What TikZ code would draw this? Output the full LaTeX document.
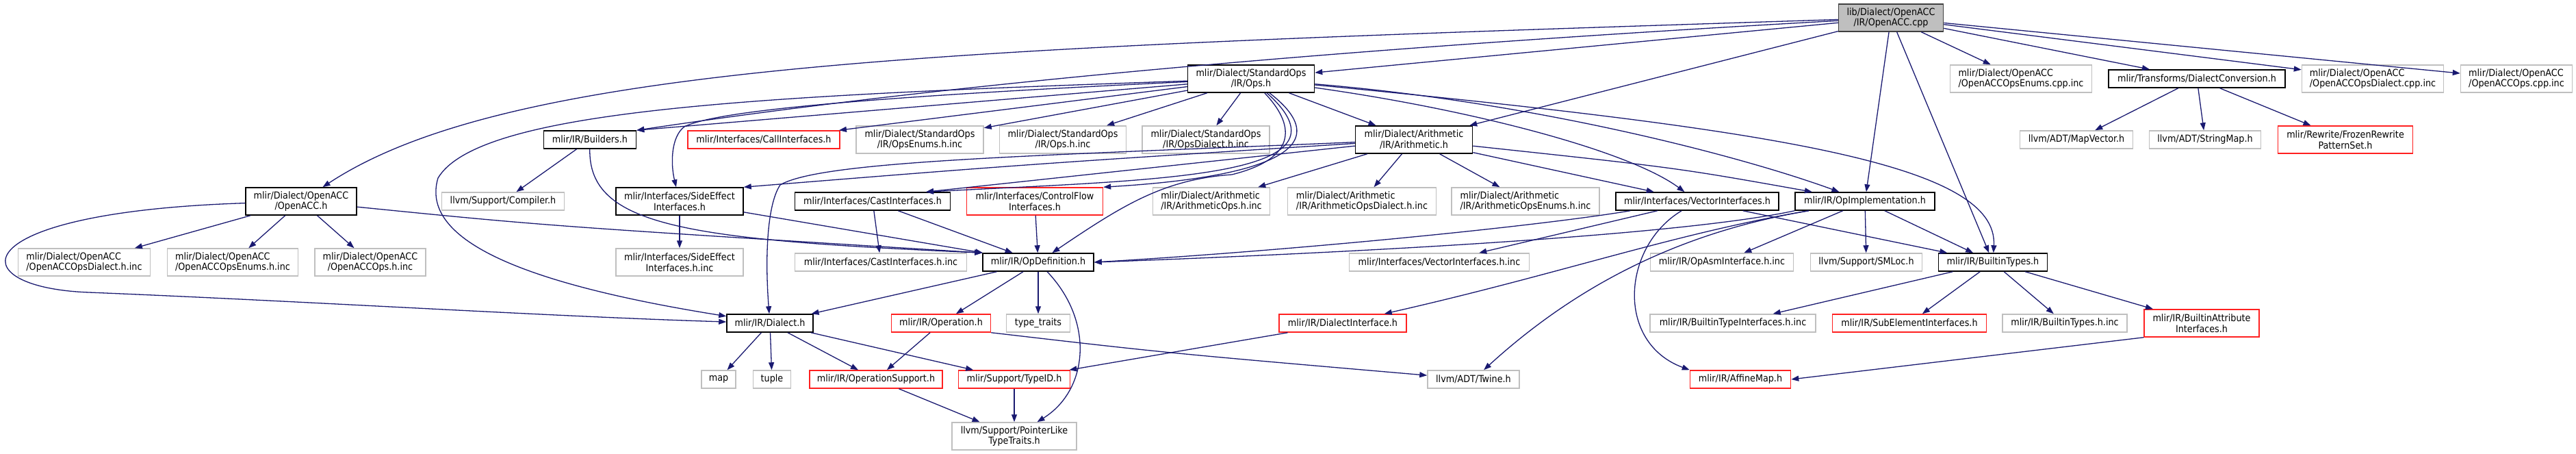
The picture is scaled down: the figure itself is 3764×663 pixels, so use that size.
\documentclass[tikz,border=0pt]{standalone}
\usepackage{fontspec}
\newfontfamily\dxfont{DejaVu Sans Condensed}
\usetikzlibrary{arrows.meta}
\definecolor{edgeblue}{HTML}{191970}
\definecolor{extgray}{HTML}{BFBFBF}
\definecolor{grey25}{HTML}{404040}
\definecolor{cutred}{HTML}{FF2020}
\begin{document}
\begin{tikzpicture}[x=1pt, y=-1pt,
    incbox/.style={rectangle, line width=1.5pt, inner sep=0pt, align=center,
      font=\dxfont\fontsize{14.2pt}{15.5pt}\selectfont, minimum height=26pt},
    docfile/.style={incbox, draw=black},
    extfile/.style={incbox, draw=extgray},
    cutfile/.style={incbox, draw=cutred},
    rootfile/.style={incbox, draw=grey25, fill=extgray},
    tall/.style={minimum height=40pt},
    dep/.style={draw=edgeblue, line width=1.3pt, -{Triangle[length=11pt,width=8pt]}}]
    \useasboundingbox (0,0) rectangle (3764,663);

    \node[rootfile, tall, minimum width=153pt] (root) at (2763,26) {lib/Dialect/OpenACC\\/IR/OpenACC.cpp};

    \node[docfile, tall, minimum width=185pt] (stdops) at (1828,115) {mlir/Dialect/StandardOps\\/IR/Ops.h};
    \node[extfile, tall, align=left, minimum width=207pt] (accenumscpp) at (2953,115) {mlir/Dialect/OpenACC\\/OpenACCOpsEnums.cpp.inc};
    \node[docfile, minimum width=258pt] (dconv) at (3210,115) {mlir/Transforms/DialectConversion.h};
    \node[extfile, tall, align=left, minimum width=207pt] (accdialcpp) at (3467,115) {mlir/Dialect/OpenACC\\/OpenACCOpsDialect.cpp.inc};
    \node[extfile, tall, align=left, minimum width=163pt] (accopscpp) at (3677,115) {mlir/Dialect/OpenACC\\/OpenACCOps.cpp.inc};

    \node[docfile, minimum width=135pt] (builders) at (862,204) {mlir/IR/Builders.h};
    \node[cutfile, minimum width=222pt] (callif) at (1116,204) {mlir/Interfaces/CallInterfaces.h};
    \node[extfile, tall, minimum width=186pt] (opsenumsinc) at (1344,204) {mlir/Dialect/StandardOps\\/IR/OpsEnums.h.inc};
    \node[extfile, tall, minimum width=185pt] (opsinc) at (1553,204) {mlir/Dialect/StandardOps\\/IR/Ops.h.inc};
    \node[extfile, tall, minimum width=186pt] (opsdialinc) at (1762,204) {mlir/Dialect/StandardOps\\/IR/OpsDialect.h.inc};
    \node[docfile, tall, minimum width=171pt] (arith) at (2066,204) {mlir/Dialect/Arithmetic\\/IR/Arithmetic.h};
    \node[extfile, minimum width=165pt] (mapvec) at (3034,204) {llvm/ADT/MapVector.h};
    \node[extfile, minimum width=163pt] (strmap) at (3222,204) {llvm/ADT/StringMap.h};
    \node[cutfile, tall, minimum width=197pt] (frozen) at (3427,204) {mlir/Rewrite/FrozenRewrite\\PatternSet.h};

    \node[docfile, tall, minimum width=162pt] (openacch) at (440,294) {mlir/Dialect/OpenACC\\/OpenACC.h};
    \node[extfile, minimum width=179pt] (compiler) at (735,294) {llvm/Support/Compiler.h};
    \node[docfile, tall, minimum width=186pt] (sideeff) at (993,294) {mlir/Interfaces/SideEffect\\Interfaces.h};
    \node[docfile, minimum width=227pt] (castif) at (1275,294) {mlir/Interfaces/CastInterfaces.h};
    \node[cutfile, tall, minimum width=199pt] (ctrlflow) at (1512,294) {mlir/Interfaces/ControlFlow\\Interfaces.h};
    \node[extfile, tall, align=left, minimum width=171pt] (arithopsinc) at (1770,294) {mlir/Dialect/Arithmetic\\/IR/ArithmeticOps.h.inc};
    \node[extfile, tall, align=left, minimum width=217pt] (arithdialinc) at (1990,294) {mlir/Dialect/Arithmetic\\/IR/ArithmeticOpsDialect.h.inc};
    \node[extfile, tall, align=left, minimum width=216pt] (arithenumsinc) at (2229,294) {mlir/Dialect/Arithmetic\\/IR/ArithmeticOpsEnums.h.inc};
    \node[docfile, minimum width=238pt] (vecif) at (2480,294) {mlir/Interfaces/VectorInterfaces.h};
    \node[docfile, minimum width=204pt] (opimpl) at (2725,294) {mlir/IR/OpImplementation.h};

    \node[extfile, tall, align=left, minimum width=193pt] (accdialinc) at (123,383) {mlir/Dialect/OpenACC\\/OpenACCOpsDialect.h.inc};
    \node[extfile, tall, align=left, minimum width=191pt] (accenumsinc) at (340,383) {mlir/Dialect/OpenACC\\/OpenACCOpsEnums.h.inc};
    \node[extfile, tall, minimum width=162pt] (accopsinc) at (541,383) {mlir/Dialect/OpenACC\\/OpenACCOps.h.inc};
    \node[extfile, tall, minimum width=186pt] (sideeffinc) at (993,383) {mlir/Interfaces/SideEffect\\Interfaces.h.inc};
    \node[extfile, minimum width=251pt] (castinc) at (1287,383) {mlir/Interfaces/CastInterfaces.h.inc};
    \node[docfile, minimum width=162pt] (opdef) at (1517,383) {mlir/IR/OpDefinition.h};
    \node[extfile, minimum width=263pt] (vecinc) at (2103,383) {mlir/Interfaces/VectorInterfaces.h.inc};
    \node[extfile, minimum width=209pt] (opasminc) at (2516,383) {mlir/IR/OpAsmInterface.h.inc};
    \node[extfile, minimum width=163pt] (smloc) at (2727,383) {llvm/Support/SMLoc.h};
    \node[docfile, minimum width=159pt] (btypes) at (2912,383) {mlir/IR/BuiltinTypes.h};

    \node[docfile, minimum width=126pt] (dialect) at (1125,472) {mlir/IR/Dialect.h};
    \node[cutfile, minimum width=145pt] (operation) at (1375,472) {mlir/IR/Operation.h};
    \node[extfile, minimum width=93pt] (typetraits) at (1517,472) {type\_traits};
    \node[cutfile, minimum width=186pt] (dialif) at (1962,472) {mlir/IR/DialectInterface.h};
    \node[extfile, minimum width=242pt] (btinc) at (2532,472) {mlir/IR/BuiltinTypeInterfaces.h.inc};
    \node[cutfile, minimum width=225pt] (subelem) at (2790,472) {mlir/IR/SubElementInterfaces.h};
    \node[extfile, minimum width=182pt] (btypesinc) at (3017,472) {mlir/IR/BuiltinTypes.h.inc};
    \node[cutfile, tall, minimum width=168pt] (battr) at (3217,472) {mlir/IR/BuiltinAttribute\\Interfaces.h};

    \node[extfile, minimum width=50pt] (map) at (1050,554) {map};
    \node[extfile, minimum width=55pt] (tuple) at (1128,554) {tuple};
    \node[cutfile, minimum width=194pt] (opsupport) at (1280,554) {mlir/IR/OperationSupport.h};
    \node[cutfile, minimum width=163pt] (typeid) at (1482,554) {mlir/Support/TypeID.h};
    \node[extfile, minimum width=134pt] (twine) at (2153,554) {llvm/ADT/Twine.h};
    \node[cutfile, minimum width=147pt] (affinemap) at (2543,554) {mlir/IR/AffineMap.h};

    \node[extfile, tall, minimum width=182pt] (ptrlike) at (1482,637) {llvm/Support/PointerLike\\TypeTraits.h};

    \draw[dep] (root) .. controls (1400,70) and (750,90) .. (openacch);
    \draw[dep] (root) -- (stdops);
    \draw[dep] (root) .. controls (1700,85) and (1200,150) .. (builders.north east);
    \draw[dep] (root) -- (arith);
    \draw[dep] (root) -- (opimpl);
    \draw[dep] (root) -- (btypes);
    \draw[dep] (root) -- (accenumscpp);
    \draw[dep] (root) -- (dconv);
    \draw[dep] (root) -- (accdialcpp);
    \draw[dep] (root) -- (accopscpp);

    \draw[dep] (stdops) -- (builders.north east);
    \draw[dep] (stdops) -- (callif);
    \draw[dep] (stdops) -- (opsenumsinc);
    \draw[dep] (stdops) -- (opsinc);
    \draw[dep] (stdops) -- (opsdialinc);
    \draw[dep] (stdops) -- (arith);
    \draw[dep] (stdops) .. controls (1100,140) and (700,160) .. (640,260) .. controls (610,360) and (800,420) .. (dialect);
    \draw[dep] (stdops) .. controls (1300,140) and (1050,160) .. (1000,185) .. controls (980,200) and (980,240) .. (sideeff);
    \draw[dep] (stdops) .. controls (1990,260) and (1700,262) .. (castif.10);
    \draw[dep] (stdops) .. controls (1990,240) and (1750,265) .. (ctrlflow.north east);
    \draw[dep] (stdops) .. controls (1890,180) and (1900,230) .. (1800,255) .. controls (1700,262) and (1640,300) .. (opdef);
    \draw[dep] (stdops) .. controls (2150,160) and (2380,220) .. (vecif);
    \draw[dep] (stdops) .. controls (2250,150) and (2550,230) .. (opimpl);
    \draw[dep] (stdops) .. controls (2600,190) and (2920,240) .. (btypes);

    \draw[dep] (arith) -- (arithopsinc);
    \draw[dep] (arith) -- (arithdialinc);
    \draw[dep] (arith) -- (arithenumsinc);
    \draw[dep] (arith) -- (vecif);
    \draw[dep] (arith) .. controls (2450,245) .. (opimpl);
    \draw[dep] (arith) .. controls (1500,228) and (1200,235) .. (1140,270) .. controls (1120,300) and (1118,380) .. (dialect);
    \draw[dep] (arith) .. controls (1500,240) .. (sideeff.north east);
    \draw[dep] (arith) -- (castif.10);

    \draw[dep] (openacch) -- (accdialinc);
    \draw[dep] (openacch) -- (accenumsinc);
    \draw[dep] (openacch) -- (accopsinc);
    \draw[dep] (openacch) .. controls (-60,310) and (-60,420) .. (130,427) .. controls (450,440) and (800,462) .. (dialect);
    \draw[dep] (openacch) .. controls (800,330) .. (opdef.north west);

    \draw[dep] (builders) -- (compiler);
    \draw[dep] (builders) .. controls (860,330) and (1000,350) .. (opdef.north west);
    \draw[dep] (sideeff) -- (sideeffinc);
    \draw[dep] (sideeff) -- (opdef);
    \draw[dep] (castif) -- (castinc);
    \draw[dep] (castif) -- (opdef);
    \draw[dep] (ctrlflow) -- (opdef);

    \draw[dep] (vecif) -- (vecinc);
    \draw[dep] (vecif.188) .. controls (2250,330) and (1900,365) .. (opdef.east);
    \draw[dep] (vecif) -- (btypes);
    \draw[dep] (vecif) .. controls (2370,360) and (2360,500) .. (affinemap.north west);

    \draw[dep] (opimpl.south west) .. controls (2450,345) and (1950,370) .. (opdef.east);
    \draw[dep] (opimpl) -- (opasminc);
    \draw[dep] (opimpl) -- (smloc);
    \draw[dep] (opimpl) -- (btypes);
    \draw[dep] (opimpl) .. controls (2450,340) and (2280,400) .. (dialif);
    \draw[dep] (opimpl) .. controls (2450,340) and (2300,420) .. (twine);

    \draw[dep] (dconv) -- (mapvec);
    \draw[dep] (dconv) -- (strmap);
    \draw[dep] (dconv) -- (frozen);

    \draw[dep] (opdef) -- (dialect);
    \draw[dep] (opdef) -- (operation);
    \draw[dep] (opdef) -- (typetraits);
    \draw[dep] (opdef) .. controls (1600,470) and (1590,570) .. (ptrlike);

    \draw[dep] (dialect) -- (map);
    \draw[dep] (dialect) -- (tuple);
    \draw[dep] (dialect) -- (opsupport);
    \draw[dep] (dialect) -- (typeid);
    \draw[dep] (operation) -- (opsupport);
    \draw[dep] (operation.south east) .. controls (1700,515) .. (twine);
    \draw[dep] (opsupport) -- (ptrlike);
    \draw[dep] (typeid) -- (ptrlike);
    \draw[dep] (dialif) -- (typeid);

    \draw[dep] (btypes) -- (btinc);
    \draw[dep] (btypes) -- (subelem);
    \draw[dep] (btypes) -- (btypesinc);
    \draw[dep] (btypes) -- (battr);
    \draw[dep] (battr.south west) -- (affinemap.east);
\end{tikzpicture}
\end{document}
